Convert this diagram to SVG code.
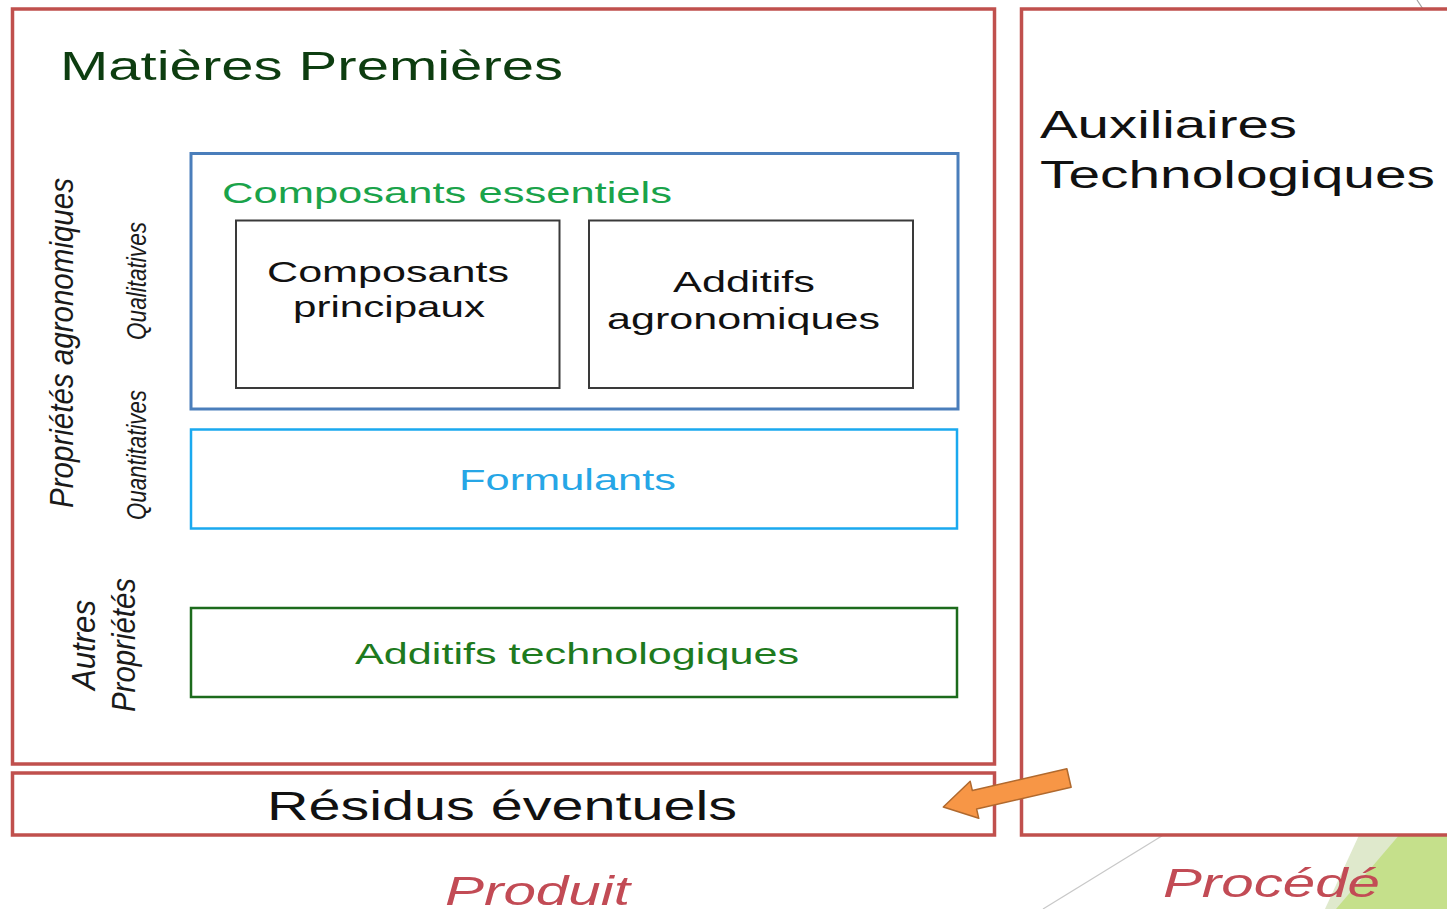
<svg xmlns="http://www.w3.org/2000/svg" width="1447" height="909" viewBox="0 0 1447 909">
  <style>
    text { font-family: "Liberation Sans", Arial, sans-serif; }
    .frame { fill: #ffffff; stroke: #c0504d; stroke-width: 3.5; }
    .inner { fill: #ffffff; stroke: #3a3a3a; stroke-width: 2; }
    .dark { fill: #111111; }
    .side { fill: #1a1a1a; font-style: italic; font-size: 34px; }
    .small { fill: #1a1a1a; font-style: italic; font-size: 27px; }
    .caption { fill: #c24b55; font-style: italic; font-size: 40px; }
  </style>

  <rect x="0" y="0" width="1447" height="909" fill="#ffffff"/>

  <!-- background decoration, bottom right -->
  <g id="decor">
    <polygon points="1366,820 1447,820 1447,909 1325,909" fill="#dfe9cc"/>
    <polygon points="1412,820 1447,820 1447,909 1336,909" fill="#c5e08b"/>
    <line x1="1165" y1="834" x2="1043" y2="909" stroke="#c8c8c8" stroke-width="1.2"/>
    <line x1="1417" y1="0" x2="1423" y2="9" stroke="#a0a0a0" stroke-width="1.2"/>
  </g>

  <!-- Produit frame -->
  <g id="matieres">
    <rect class="frame" x="12.5" y="9" width="982" height="755"/>
    <text x="60" y="80" font-size="40" fill="#0d3d10" textLength="503" lengthAdjust="spacingAndGlyphs">Matières Premières</text>
  </g>

  <g id="residus">
    <rect class="frame" x="12.5" y="773" width="982" height="62"/>
    <text class="dark" x="267" y="820" font-size="40" textLength="470" lengthAdjust="spacingAndGlyphs">Résidus éventuels</text>
  </g>

  <!-- Procédé frame -->
  <g id="auxiliaires">
    <rect class="frame" x="1021.5" y="9" width="440" height="826"/>
    <text class="dark" x="1040" y="138" font-size="39" textLength="257" lengthAdjust="spacingAndGlyphs">Auxiliaires</text>
    <text class="dark" x="1040" y="188" font-size="39" textLength="395" lengthAdjust="spacingAndGlyphs">Technologiques</text>
  </g>

  <!-- essential components -->
  <g id="essentiels">
    <rect x="191" y="153.5" width="767" height="255.5" fill="#ffffff" stroke="#4a7ebb" stroke-width="3"/>
    <text x="222" y="203" font-size="30" fill="#1aa34a" textLength="450" lengthAdjust="spacingAndGlyphs">Composants essentiels</text>
  </g>

  <g id="principaux">
    <rect class="inner" x="236" y="220.5" width="323.5" height="167.5"/>
    <text class="dark" x="267" y="282" font-size="29" textLength="242" lengthAdjust="spacingAndGlyphs">Composants</text>
    <text class="dark" x="293" y="317" font-size="29" textLength="192" lengthAdjust="spacingAndGlyphs">principaux</text>
  </g>

  <g id="additifs-agro">
    <rect class="inner" x="589" y="220.5" width="324" height="167.5"/>
    <text class="dark" x="673" y="292" font-size="29" textLength="142" lengthAdjust="spacingAndGlyphs">Additifs</text>
    <text class="dark" x="607" y="329" font-size="29" textLength="273" lengthAdjust="spacingAndGlyphs">agronomiques</text>
  </g>

  <g id="formulants">
    <rect x="191" y="429.5" width="766" height="99" fill="#ffffff" stroke="#1aa9ef" stroke-width="2.5"/>
    <text x="459" y="490" font-size="30" fill="#26a6e6" textLength="217" lengthAdjust="spacingAndGlyphs">Formulants</text>
  </g>

  <g id="additifs-techno">
    <rect x="191" y="608" width="766" height="89" fill="#ffffff" stroke="#1c6b1c" stroke-width="2.5"/>
    <text x="355" y="664" font-size="30" fill="#1e7a1e" textLength="444" lengthAdjust="spacingAndGlyphs">Additifs technologiques</text>
  </g>

  <!-- side labels, rotated -->
  <g id="labels-cote">
    <text class="side" transform="translate(73,343) rotate(-90)" text-anchor="middle" textLength="330" lengthAdjust="spacingAndGlyphs">Propriétés agronomiques</text>
    <text class="small" transform="translate(146,281) rotate(-90)" text-anchor="middle" textLength="118" lengthAdjust="spacingAndGlyphs">Qualitatives</text>
    <text class="small" transform="translate(146,455) rotate(-90)" text-anchor="middle" textLength="130" lengthAdjust="spacingAndGlyphs">Quantitatives</text>
    <text class="side" transform="translate(95,645) rotate(-90)" text-anchor="middle" textLength="90" lengthAdjust="spacingAndGlyphs">Autres</text>
    <text class="side" transform="translate(135,645) rotate(-90)" text-anchor="middle" textLength="134" lengthAdjust="spacingAndGlyphs">Propriétés</text>
  </g>

  <!-- captions -->
  <g id="legendes">
    <text class="caption" x="445" y="905" textLength="185" lengthAdjust="spacingAndGlyphs">Produit</text>
    <text class="caption" x="1163" y="897" textLength="217" lengthAdjust="spacingAndGlyphs">Procédé</text>
  </g>

  <!-- connector: process residues into product -->
  <g id="connecteurs">
    <polygon transform="translate(1069,778) rotate(167)" points="0,-9.5 97,-9.5 97,-19 129,0 97,19 97,9.5 0,9.5" fill="#f79646" stroke="#b0692e" stroke-width="1.5" stroke-linejoin="round"/>
  </g>
</svg>
